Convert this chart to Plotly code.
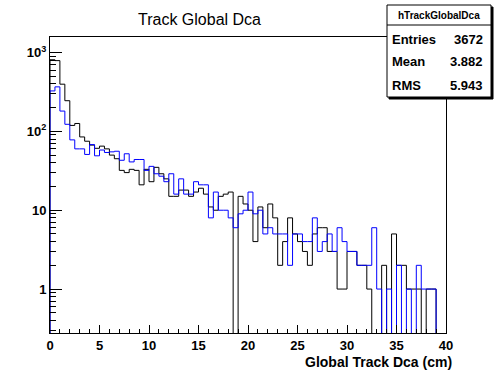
import math
import plotly.graph_objects as go

# ---- data ----
bin_edges_start = 0.0
bin_width = 0.5
n_bins = 80

black_counts = [810, 790, 397, 245, 119, 126, 85, 75, 67, 61,
                65, 60, 50, 45, 32, 30, 33, 32, 21, 33,
                23, 35, 29, 25, 15, 15, 18, 18, 15, 17,
                19, 16, 11, 10, 15, 16, 17, 0, 15, 12,
                10, 4, 11, 6, 12, 8, 2, 4, 8, 5,
                4, 3, 2, 5, 6, 6, 3, 3, 1, 1,
                3, 3, 2, 2, 1, 0, 0, 2, 0, 5,
                2, 2, 1, 1, 1, 0, 1, 1, 0, 0]

blue_counts = [326, 367, 181, 123, 78, 60, 60, 51, 68, 49,
               58, 54, 55, 56, 43, 52, 41, 44, 44, 32,
               36, 29, 27, 23, 29, 16, 25, 16, 16, 23,
               21, 21, 8, 17, 10, 10, 8, 6, 9, 10,
               17, 9, 10, 5, 6, 5, 5, 5, 2, 5,
               5, 4, 4, 8, 3, 4, 5, 3, 6, 4,
               3, 3, 2, 2, 2, 6, 1, 0, 1, 0,
               2, 0, 1, 0, 2, 1, 1, 1, 0, 0]

x_tick_vals = [0, 5, 10, 15, 20, 25, 30, 35, 40]
y_tick_vals = [1, 10, 100, 1000]
y_tick_text = ["1", "10", "10<sup>2</sup>", "10<sup>3</sup>"]

stats_name = "hTrackGlobalDca"
stats_labels = ["Entries", "Mean", "RMS"]
stats_values = ["3672", "3.882", "5.943"]

title_text = "Track Global Dca"
x_title = "Global Track Dca (cm)"

# ---- layout geometry ----
W, H = 496, 372
L, R, T, B = 50, 446, 37, 333
y_min, y_max = 0.277, 1575.0
floor_val = 0.05  # zero bins drawn at the bottom (clipped)


def px(x):
    return (x - L) / (R - L)


def py(y):
    return (B - y) / (B - T)


def step_xy(counts):
    edges = [bin_edges_start + i * bin_width for i in range(n_bins + 1)]
    vals = [c if c > 0 else floor_val for c in counts]
    xs = [edges[0]] + edges[:-1] + [edges[-1], edges[-1]]
    ys = [floor_val] + vals + [vals[-1], floor_val]
    return xs, ys


font_family = "Liberation Sans, Arial, Helvetica, sans-serif"

fig = go.Figure()
for counts, color in [(black_counts, "#000000"), (blue_counts, "#0000ff")]:
    xs, ys = step_xy(counts)
    fig.add_trace(go.Scatter(x=xs, y=ys, mode="lines", line=dict(color=color, width=1, shape="hv"),
                             hoverinfo="skip", showlegend=False))

minor_y = []
for dec in [0.1, 1, 10, 100, 1000]:
    for m in range(2, 10):
        v = m * dec
        if y_min < v < y_max:
            minor_y.append(v)

fig.update_layout(
    width=W, height=H,
    margin=dict(l=L, r=W - R, t=T, b=H - B, pad=0),
    paper_bgcolor="white", plot_bgcolor="white",
    showlegend=False,
    font=dict(family=font_family, color="black"),
    xaxis=dict(range=[0, 40], showgrid=False, zeroline=False,
               showline=True, linecolor="black", linewidth=1, mirror=True,
               ticks="inside", ticklen=8, tickcolor="black", tickwidth=1,
               tickvals=x_tick_vals, ticktext=[str(v) for v in x_tick_vals],
               tickfont=dict(size=13, weight="bold", family=font_family),
               minor=dict(dtick=1, ticks="inside", ticklen=4, tickcolor="black", showgrid=False)),
    yaxis=dict(type="log", range=[math.log10(y_min), math.log10(y_max)], showgrid=False, zeroline=False,
               showline=True, linecolor="black", linewidth=1, mirror=True,
               ticks="inside", ticklen=12, tickcolor="black", tickwidth=1,
               tickvals=y_tick_vals, ticktext=y_tick_text,
               tickfont=dict(size=13, weight="bold", family=font_family),
               minor=dict(tickvals=minor_y, ticks="inside", ticklen=6, tickcolor="black", showgrid=False)),
)

# title
fig.add_annotation(text=title_text, xref="paper", yref="paper", x=px(199), y=py(20),
                   xanchor="center", yanchor="middle", showarrow=False,
                   font=dict(size=16, family=font_family, color="black"))
# x-axis title
fig.add_annotation(text=x_title, xref="paper", yref="paper", x=px(454), y=py(362),
                   xanchor="right", yanchor="middle", showarrow=False,
                   font=dict(size=14, weight="bold", family=font_family, color="black"))

# stats box
bx0, bx1, by0, by1 = 387, 491, 5, 97
fig.add_shape(type="rect", xref="paper", yref="paper", x0=px(bx0 + 2), x1=px(bx1 + 2), y0=py(by0 + 2), y1=py(by1 + 2),
              fillcolor="black", line=dict(color="black", width=1), layer="above")
fig.add_shape(type="rect", xref="paper", yref="paper", x0=px(bx0), x1=px(bx1), y0=py(by0), y1=py(by1),
              fillcolor="white", line=dict(color="black", width=1), layer="above")
fig.add_shape(type="line", xref="paper", yref="paper", x0=px(bx0), x1=px(bx1), y0=py(25), y1=py(25),
              line=dict(color="black", width=1), layer="above")
fig.add_annotation(text=stats_name, xref="paper", yref="paper", x=px((bx0 + bx1) / 2), y=py(16),
                   xanchor="center", yanchor="middle", showarrow=False,
                   font=dict(size=10, weight="bold", family=font_family, color="black"))
row_y = [39, 62, 85]
for lab, val, yy in zip(stats_labels, stats_values, row_y):
    fig.add_annotation(text=lab, xref="paper", yref="paper", x=px(390), y=py(yy),
                       xanchor="left", yanchor="middle", showarrow=False,
                       font=dict(size=13, weight="bold", family=font_family, color="black"))
    fig.add_annotation(text=val, xref="paper", yref="paper", x=px(485), y=py(yy),
                       xanchor="right", yanchor="middle", showarrow=False,
                       font=dict(size=13, weight="bold", family=font_family, color="black"))

fig.write_html("out.html", config={"displayModeBar": False, "staticPlot": True},
               post_script="document.body.style.margin='0';document.body.style.padding='0';")
